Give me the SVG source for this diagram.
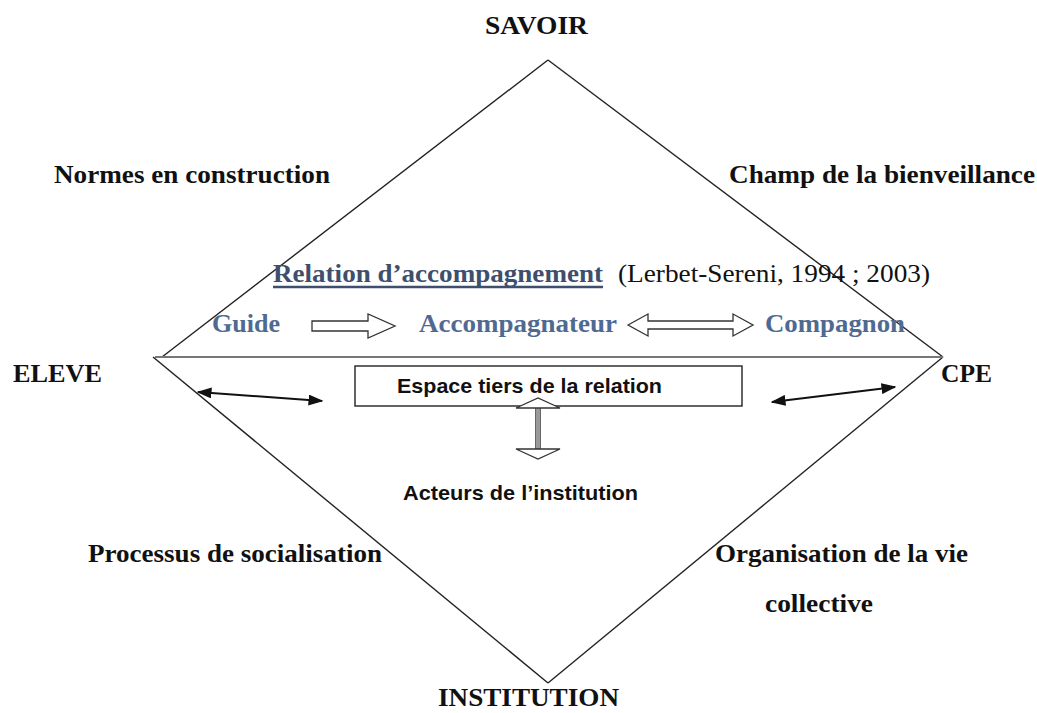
<svg xmlns="http://www.w3.org/2000/svg" width="1037" height="713" viewBox="0 0 1037 713">
<style>
.t{font-family:"Liberation Serif","Times New Roman",serif;font-weight:bold;font-size:26px;fill:#111}
.b{font-family:"Liberation Serif","Times New Roman",serif;font-weight:bold;font-size:26px;fill:#4f6a92}
.r{font-family:"Liberation Serif","Times New Roman",serif;font-size:26px;fill:#111}
.s{font-family:"Liberation Sans",Arial,sans-serif;font-weight:bold;font-size:21px;fill:#111}
.ln{stroke:#222;stroke-width:1.4;fill:none}
.ha{fill:#fff;stroke:#333;stroke-width:1.3}
.ba{stroke:#111;stroke-width:2;fill:none;marker-start:url(#ah);marker-end:url(#ah)}
</style>
<defs>
<marker id="ah" viewBox="0 0 10 10" refX="9" refY="5" markerWidth="15" markerHeight="11" markerUnits="userSpaceOnUse" orient="auto-start-reverse" preserveAspectRatio="none">
<path d="M0,0 L10,5 L0,10 Z" fill="#111"/>
</marker>
</defs>
<rect width="1037" height="713" fill="#fff"/>
<g id="diamond">
<line class="ln" x1="162" y1="357" x2="548" y2="60"/>
<line class="ln" x1="548" y1="60" x2="943" y2="357"/>
<line class="ln" x1="153" y1="357" x2="548" y2="683"/>
<line class="ln" x1="943" y1="357" x2="548" y2="683"/>
<line x1="155" y1="357" x2="943" y2="357" stroke="#777" stroke-width="2"/>
</g>
<g id="labels">
<text class="t" x="485" y="34" textLength="103" lengthAdjust="spacingAndGlyphs">SAVOIR</text>
<text class="t" x="54" y="183" textLength="276" lengthAdjust="spacingAndGlyphs">Normes en construction</text>
<text class="t" x="729" y="183" textLength="306" lengthAdjust="spacingAndGlyphs">Champ de la bienveillance</text>
<text class="t" x="13" y="382" textLength="89" lengthAdjust="spacingAndGlyphs">ELEVE</text>
<text class="t" x="941" y="382" textLength="51" lengthAdjust="spacingAndGlyphs">CPE</text>
<text class="t" x="88" y="562" textLength="294" lengthAdjust="spacingAndGlyphs">Processus de socialisation</text>
<text class="t" x="715" y="562" textLength="253" lengthAdjust="spacingAndGlyphs">Organisation de la vie</text>
<text class="t" x="765" y="612" textLength="108" lengthAdjust="spacingAndGlyphs">collective</text>
<text class="t" x="438" y="706" textLength="181" lengthAdjust="spacingAndGlyphs">INSTITUTION</text>
</g>
<g id="relation">
<text class="b" x="273" y="282" style="fill:#3e4f6e" textLength="330" lengthAdjust="spacingAndGlyphs">Relation d’accompagnement</text>
<line x1="273" y1="287" x2="603" y2="287" stroke="#3e4f6e" stroke-width="2.5"/>
<text class="r" x="618" y="282" textLength="312" lengthAdjust="spacingAndGlyphs">(Lerbet-Sereni, 1994 ; 2003)</text>
</g>
<g id="guide"><text class="b" x="212" y="332" textLength="68" lengthAdjust="spacingAndGlyphs">Guide</text></g>
<g id="accompagnateur"><text class="b" x="419" y="332" textLength="198" lengthAdjust="spacingAndGlyphs">Accompagnateur</text></g>
<g id="compagnon"><text class="b" x="765" y="332" textLength="140" lengthAdjust="spacingAndGlyphs">Compagnon</text></g>
<g id="espace">
<rect x="355" y="366" width="387" height="40" fill="#fff" stroke="#222" stroke-width="1.4"/>
<text class="s" x="397" y="393" textLength="265" lengthAdjust="spacingAndGlyphs">Espace tiers de la relation</text>
</g>
<g id="acteurs"><text class="s" x="403" y="500" textLength="235" lengthAdjust="spacingAndGlyphs">Acteurs de l’institution</text></g>
<g id="connectors">
<polygon class="ha" points="312,321 368,321 368,314 395,326 368,338 368,331 312,331"/>
<polygon class="ha" points="628,325 648,314 648,321 733,321 733,314 753,325 733,336 733,329 648,329 648,336"/>
<rect x="535.5" y="407" width="5" height="42" fill="#999" stroke="#666" stroke-width="1"/>
<polygon class="ha" points="516,408 538,398 560,408"/>
<polygon class="ha" points="516,449 560,449 538,459"/>
<line class="ba" x1="198" y1="392" x2="322" y2="401"/>
<line class="ba" x1="772" y1="402" x2="895" y2="387"/>
</g>
</svg>
